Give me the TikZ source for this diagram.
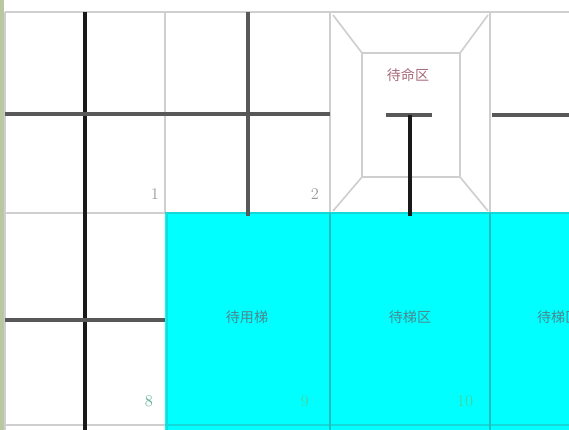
\documentclass[tikz,border=0pt]{standalone}
\usepackage{fontspec}
\newfontfamily\cjk{Noto Sans CJK SC}
\usetikzlibrary{positioning}
\definecolor{gridgray}{HTML}{CFCFCF}
\definecolor{darkline}{HTML}{585858}
\definecolor{aqua}{HTML}{00FFFF}
\definecolor{aquaedge}{HTML}{22BDBD}
\definecolor{zonered}{HTML}{A86A7A}
\definecolor{bayteal}{HTML}{4A8890}
\definecolor{numgray}{HTML}{9A9A9A}
\definecolor{numgreen}{HTML}{3FD6A0}
\definecolor{stripgreen}{HTML}{B9C7A2}

\begin{document}
\begin{tikzpicture}[x=0.03cm,y=-0.03cm]
    \tikzset{
    gridline/.style={
        gridgray,
        line width=2.4pt
    },
    roadline/.style={
        black!90,
        line width=3.2pt
    },
    laneline/.style={
        darkline,
        line width=3.2pt
    },
    baylabel/.style={
        font=\cjk\fontsize{12}{12}\selectfont,
        text=bayteal
    },
    cellnum/.style={
        font=\fontsize{14}{14}\selectfont,
        text=numgray
    }
}
        \useasboundingbox (0,0) rectangle (569,430);
        \clip (0,0) rectangle (569,430);
        \fill[white] (0,0) rectangle (569,430);
        \fill[stripgreen] (0,0) rectangle (4,430);

        % cyan bays
        \fill[aqua] (165,213) rectangle (569,430);

        % grid
        \draw[gridline] (5,12) -- (569,12);
        \draw[gridline] (5,213) -- (165,213);
        \draw[gridline] (5,425) -- (165,425);
        \draw[gridline] (5,12) -- (5,430);
        \draw[gridline] (165,12) -- (165,213);
        \draw[gridline] (330,12) -- (330,213);
        \draw[gridline] (490,12) -- (490,213);
        \draw[aquaedge!60!aqua, line width=2.4pt] (165,213) -- (569,213);
        \draw[aquaedge!60!aqua, line width=2.4pt] (165,425) -- (569,425);
        \draw[aquaedge!50!aqua, line width=2.4pt] (167,213) -- (167,430);
        \draw[aquaedge, line width=1.2pt] (330,213) -- (330,430);
        \draw[aquaedge, line width=1.2pt] (490,213) -- (490,430);

        % standby zone frame
        \draw[gridline] (362,53) rectangle (460,177);
        \draw[gridline, line width=1.4pt] (333,15) -- (362,53);
        \draw[gridline, line width=1.4pt] (488,15) -- (460,53);
        \draw[gridline, line width=1.4pt] (333,211) -- (362,177);
        \draw[gridline, line width=1.4pt] (488,211) -- (460,177);

        % lane markings
        \draw[roadline] (85,12) -- (85,430);
        \draw[laneline] (248,12) -- (248,216);
        \draw[laneline] (5,114) -- (330,114);
        \draw[laneline] (5,320) -- (165,320);
        \draw[laneline] (386,115) -- (432,115);
        \draw[roadline] (410,115) -- (410,216);
        \draw[laneline] (492,115) -- (569,115);

        % labels
        \node[font=\cjk\fontsize{12}{12}\selectfont, text=zonered] (standby) at (408,75) {待命区};
        \node[baylabel] (bay9) at (247,317) {待用梯};
        \node[baylabel] (bay10) at (410,317) {待梯区};
        \node[baylabel, anchor=west] (bay11) at (533,317) {待梯区};

        \node[cellnum] (n1) at (155,194) {1};
        \node[cellnum] (n2) at (315,194) {2};
        \node[cellnum, text=numgreen!55!gray] (n8) at (149,401) {8};
        \node[cellnum, text=numgreen] (n9) at (305,401) {9};
        \node[cellnum, text=numgreen] (n10) at (465,401) {10};
    \end{tikzpicture}
\end{document}
